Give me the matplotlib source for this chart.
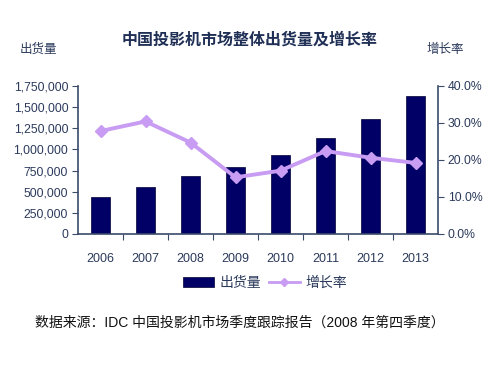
import matplotlib
matplotlib.use("Agg")
import matplotlib.pyplot as plt
from matplotlib.ticker import FuncFormatter

plt.rcParams['font.family'] = ['Liberation Sans', 'Noto Sans CJK SC', 'DejaVu Sans']

years = ['2006', '2007', '2008', '2009', '2010', '2011', '2012', '2013']
shipments = [434000, 552000, 686000, 796000, 930000, 1131000, 1363000, 1632000]
growth = [27.8, 30.4, 24.7, 15.3, 17.1, 22.4, 20.6, 19.2]

title = '中国投影机市场整体出货量及增长率'
left_label = '出货量'
right_label = '增长率'
source = '数据来源：IDC 中国投影机市场季度跟踪报告（2008 年第四季度）'

text_color = '#2B3A5C'
axis_color = '#3A4A6A'
bar_color = '#000066'
line_color = '#C79CF2'

fig = plt.figure(figsize=(5, 3.75), dpi=100)
ax = fig.add_axes([0.156, 0.376, 0.72, 0.395])
x = list(range(len(years)))
bars = ax.bar(x, shipments, width=0.42, color=bar_color, edgecolor='#000033', linewidth=0.5, label=left_label, zorder=2)
ax.set_xlim(-0.5, len(years) - 0.5)
ax.set_ylim(0, 1750000)
ax.set_yticks(range(0, 1750001, 250000))
ax.yaxis.set_major_formatter(FuncFormatter(lambda v, p: f'{int(v):,}'))
ax.set_xticks([i + 0.5 for i in x[:-1]])
ax.set_xticklabels([])
ax.set_xticks(x, minor=True)
ax.set_xticklabels(years, minor=True)
ax.tick_params(axis='x', which='minor', length=0, pad=14, labelsize=9, labelcolor=text_color)
ax.tick_params(axis='x', which='major', length=4, direction='out', color=axis_color)
ax.tick_params(axis='y', length=4, direction='out', color=axis_color, labelsize=8.8, labelcolor=text_color, pad=3)
for s in ['top', 'right']:
    ax.spines[s].set_visible(False)
for s in ['left', 'bottom']:
    ax.spines[s].set_color(axis_color)
    ax.spines[s].set_linewidth(1.2)

ax2 = ax.twinx()
ln, = ax2.plot(x, growth, color=line_color, linewidth=2.8, marker='D', markersize=6.5, label=right_label, zorder=3)
ax2.set_ylim(0, 40)
ax2.set_yticks(range(0, 41, 10))
ax2.yaxis.set_major_formatter(FuncFormatter(lambda v, p: f'{v:.1f}%'))
ax2.tick_params(axis='y', length=4, direction='out', color=axis_color, labelsize=8.8, labelcolor=text_color, pad=3)
for s in ['top', 'left', 'bottom']:
    ax2.spines[s].set_visible(False)
ax2.spines['right'].set_color(axis_color)
ax2.spines['right'].set_linewidth(1.2)

fig.text(0.5, 0.893, title, ha='center', va='center', fontsize=11.5, fontweight='bold', color='#1F2F55')
fig.text(0.076, 0.867, left_label, ha='center', va='center', fontsize=9, color=text_color)
fig.text(0.89, 0.867, right_label, ha='center', va='center', fontsize=9, color=text_color)

leg = fig.legend([bars, ln], [left_label, right_label], loc='center', bbox_to_anchor=(0.53, 0.245),
                 ncol=2, frameon=False, fontsize=10, handlelength=2.2, handletextpad=0.4,
                 columnspacing=0.6, labelcolor=text_color, markerscale=0.7)
leg.get_lines()[0].set_linewidth(2)

fig.text(0.07, 0.139, source, ha='left', va='center', fontsize=10, color='#111111')

fig.savefig('out.png', dpi=100, facecolor='white')
